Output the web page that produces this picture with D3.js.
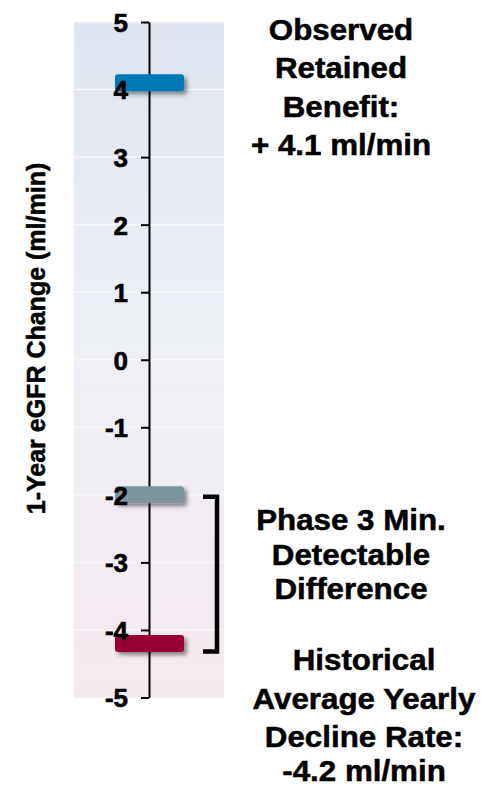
<!DOCTYPE html>
<html><head><meta charset="utf-8">
<script src="https://cdn.jsdelivr.net/npm/d3@7"></script>
<style>
html,body{margin:0;padding:0;background:#fff;}
svg text{font-family:"Liberation Sans",Arial,sans-serif;font-weight:bold;fill:#000;}
</style></head>
<body>
<svg id="chart" width="481" height="789"></svg>
<script>
const categories = ["Observed Retained Benefit", "Phase 3 Min. Detectable Difference", "Historical Average Yearly Decline Rate"];
const values = [4.1, -2.0, -4.2];
const barColors = ["#0078b4", "#7c969b", "#990033"];
const tickValues = [5, 4, 3, 2, 1, 0, -1, -2, -3, -4, -5];
const tickLabels = ["5", "4", "3", "2", "1", "0", "-1", "-2", "-3", "-4", "-5"];
const yTitle = "1-Year eGFR Change (ml/min)";
const labelLines = [
  ["Observed", "Retained", "Benefit:", "+ 4.1 ml/min"],
  ["Phase 3 Min.", "Detectable", "Difference"],
  ["Historical", "Average Yearly", "Decline Rate:", "-4.2 ml/min"]
];
const labelCenters = [[30, 68, 107, 145], [520, 555, 589], [660, 699, 737, 771]];
const labelX = [341, 351, 364];

const svg = d3.select("#chart");
const y = d3.scaleLinear().domain([-5, 5]).range([697.5, 22]);
const axisX = 149;
const panel = {x0: 74, x1: 224};

const defs = svg.append("defs");
const grad = defs.append("linearGradient").attr("id", "bg").attr("x1", 0).attr("x2", 0).attr("y1", 0).attr("y2", 1);
grad.append("stop").attr("offset", "0%").attr("stop-color", "#dfe5ef");
grad.append("stop").attr("offset", "50%").attr("stop-color", "#eef0f5");
grad.append("stop").attr("offset", "100%").attr("stop-color", "#f4e9ef");
const f = defs.append("filter").attr("id", "shadow").attr("x", "-20%").attr("y", "-50%").attr("width", "150%").attr("height", "250%");
f.append("feDropShadow").attr("dx", 3).attr("dy", 3).attr("stdDeviation", 2).attr("flood-color", "#000").attr("flood-opacity", 0.45);

svg.append("rect").attr("x", panel.x0).attr("y", y(5)).attr("width", panel.x1 - panel.x0).attr("height", y(-5) - y(5)).attr("fill", "url(#bg)");

// gridlines
svg.append("g").selectAll("line").data(tickValues).join("line")
  .attr("x1", panel.x0).attr("x2", panel.x1)
  .attr("y1", d => y(d)).attr("y2", d => y(d))
  .attr("stroke", "#f7f7f9").attr("stroke-width", 1.5);

// axis (line and ticks under the bars)
const axis = d3.axisLeft(y).tickValues(tickValues).tickSize(8).tickPadding(13).tickSizeOuter(0)
  .tickFormat((d, i) => tickLabels[i]);
const ag = svg.append("g").attr("transform", `translate(${axisX},0)`).call(axis);
ag.select(".domain").attr("stroke", "#000").attr("stroke-width", 2);
ag.selectAll(".tick line").attr("stroke", "#000").attr("stroke-width", 2);
ag.selectAll(".tick text").remove();

// bars
const barW = 69, barH = 17;
svg.append("g").selectAll("rect").data(values).join("rect")
  .attr("x", 115).attr("width", barW)
  .attr("y", d => y(d) - barH / 2).attr("height", barH)
  .attr("rx", 3).attr("ry", 3)
  .attr("fill", (d, i) => barColors[i])
  .attr("filter", "url(#shadow)");

// tick labels drawn on top of the bars
const lg = svg.append("g").attr("transform", `translate(${axisX},0)`)
  .call(d3.axisLeft(y).tickValues(tickValues).tickSize(8).tickPadding(13).tickSizeOuter(0)
    .tickFormat((d, i) => tickLabels[i]));
lg.select(".domain").remove();
lg.selectAll(".tick line").remove();
lg.selectAll(".tick text").attr("font-size", 26).attr("font-family", "Liberation Sans, Arial, sans-serif")
  .attr("font-weight", "bold").attr("fill", "#000").attr("stroke", "#000").attr("stroke-width", 0.6).attr("dy", "0.36em");

// bracket between -2 and -4.2
const bx = 217, bTop = y(values[1]) + 2, bBot = y(values[2]) + 8;
svg.append("path")
  .attr("d", `M203,${bTop} H${bx} V${bBot} H203`)
  .attr("fill", "none").attr("stroke", "#000").attr("stroke-width", 4.5).attr("stroke-linejoin", "miter");

// y title
svg.append("text")
  .attr("transform", "translate(45,338.5) rotate(-90)")
  .attr("text-anchor", "middle").attr("font-size", 25)
  .attr("stroke", "#000").attr("stroke-width", 0.5)
  .text(yTitle);

// annotations
labelLines.forEach((lines, gi) => {
  const g = svg.append("g").attr("transform", `translate(${labelX[gi]},0) scale(1.08,1)`);
  lines.forEach((t, li) => {
    g.append("text").attr("x", 0).attr("y", labelCenters[gi][li] + 10)
      .attr("text-anchor", "middle").attr("font-size", 29)
      .attr("stroke", "#000").attr("stroke-width", 0.5).text(t);
  });
});
</script>
</body></html>
